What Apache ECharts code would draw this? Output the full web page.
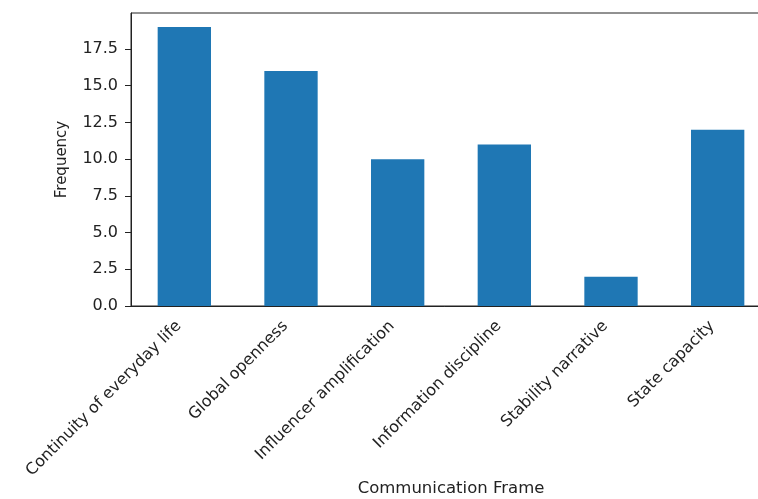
<!DOCTYPE html>
<html>
<head>
<meta charset="utf-8">
<script src="https://cdn.jsdelivr.net/npm/echarts@6/dist/echarts.min.js"></script>
<style>
html,body{margin:0;padding:0;background:#fff;}
#chart{width:758px;height:499px;}
</style>
</head>
<body>
<div id="chart"></div>
<script>
const categories = ["Continuity of everyday life","Global openness","Influencer amplification","Information discipline","Stability narrative","State capacity"];
const frequencies = [19, 16, 10, 11, 2, 12];
const yTicks = [0, 2.5, 5, 7.5, 10, 12.5, 15, 17.5];
const xTitle = "Communication Frame";
const yTitle = "Frequency";

const font = "DejaVu Sans";
const chart = echarts.init(document.getElementById('chart'), null, {renderer:'canvas'});
chart.setOption({
  animation:false,
  backgroundColor:'#fff',
  grid:{left:131, top:13, width:640, height:293, outerBoundsMode:'none', containLabel:false,
    show:true, borderColor:'#222', borderWidth:1, backgroundColor:'transparent'},
  xAxis:{
    type:'category', data:categories,
    axisLine:{lineStyle:{color:'#222', width:1}},
    axisTick:{alignWithLabel:true, length:6, lineStyle:{color:'#222'}},
    axisLabel:{rotate:45, interval:0, margin:12, padding:[0,8,0,0], fontFamily:font, fontSize:16, color:'#222'},
    name:xTitle, nameLocation:'middle', nameGap:174, nameMoveOverlap:false,
    nameTextStyle:{fontFamily:font, fontSize:16.5, color:'#222'},
    splitLine:{show:false}
  },
  yAxis:{
    type:'value', min:0, max:19.95, interval:2.5,
    axisLine:{show:true, lineStyle:{color:'#222', width:1}},
    axisTick:{show:true, length:6, lineStyle:{color:'#222'}, customValues:yTicks},
    axisLabel:{margin:13, fontFamily:font, fontSize:16, color:'#222', customValues:yTicks,
      formatter:function(v){return v.toFixed(1);}},
    splitLine:{show:false},
    name:yTitle, nameLocation:'middle', nameGap:61, nameRotate:90,
    nameTextStyle:{fontFamily:font, fontSize:15, color:'#222'}
  },
  series:[{type:'bar', data:frequencies, barWidth:'50%', itemStyle:{color:'#1f77b4'}}]
});
</script>
</body>
</html>
